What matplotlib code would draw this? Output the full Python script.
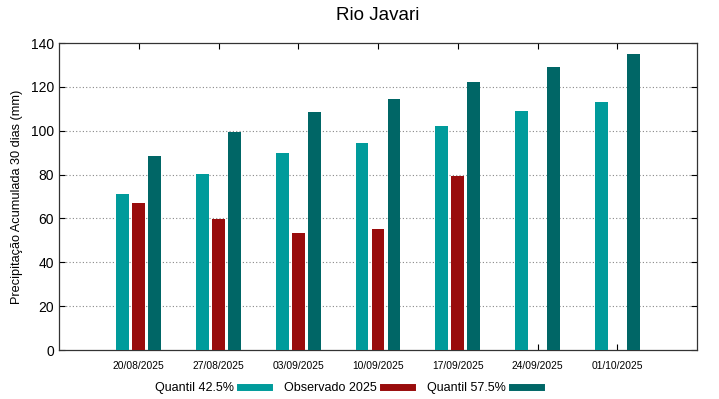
import matplotlib
matplotlib.use("Agg")
import matplotlib.pyplot as plt
from matplotlib.lines import Line2D
import numpy as np

plt.rcParams['font.family'] = ['Liberation Sans', 'DejaVu Sans']

dates = ["20/08/2025", "27/08/2025", "03/09/2025", "10/09/2025",
         "17/09/2025", "24/09/2025", "01/10/2025"]
q425 = [71.1, 80.3, 90.0, 94.4, 102.0, 109.0, 113.2]
obs = [67.2, 59.6, 53.2, 55.0, 79.5, np.nan, np.nan]
q575 = [88.6, 99.4, 108.5, 114.5, 122.3, 128.9, 135.1]

c1, c2, c3 = "#009b9b", "#990c0c", "#006666"

fig = plt.figure(figsize=(7.19, 3.99), dpi=100)
ax = fig.add_axes([59/719, 49/399, (697-59)/719, (350-43)/399])

x = np.arange(len(dates))
w = 0.16
ax.bar(x - 0.2, q425, w, color=c1, zorder=3)
ax.bar(x, obs, w, color=c2, zorder=3)
ax.bar(x + 0.2, q575, w, color=c3, zorder=3)

ax.set_xlim(-1, 7)
ax.set_ylim(0, 140)
ax.set_yticks(np.arange(0, 141, 20))
ax.set_xticks(x)
ax.set_xticklabels(dates, fontsize=7.4)
ax.tick_params(axis='y', labelsize=10, direction='in', right=True, length=4)
ax.tick_params(axis='x', direction='in', top=True, length=4, pad=8)
for yv in range(20, 140, 20):
    ax.axhline(yv, color='#888888', linestyle=(0, (1, 2)), linewidth=0.8, zorder=1)
for s in ax.spines.values():
    s.set_linewidth(0.9)
    s.set_color('#333333')

ax.set_ylabel("Precipitação Acumulada 30 dias (mm)", fontsize=9.2, labelpad=6)
fig.text(0.525, 1 - 16/399, "Rio Javari", ha='center', va='center', fontsize=13.5)

handles = [Line2D([0], [0], color=c, linewidth=5) for c in (c1, c2, c3)]
lfs = 9
px = lfs * 100 / 72
fig.legend(handles, ["Quantil 42.5%", "Observado 2025", "Quantil 57.5%"],
           loc='center', bbox_to_anchor=(348/719, 11/399), ncol=3, frameon=False,
           markerfirst=False, fontsize=lfs,
           handlelength=29/px, columnspacing=15/px, handletextpad=6/px)

fig.savefig("out.png", dpi=100)
